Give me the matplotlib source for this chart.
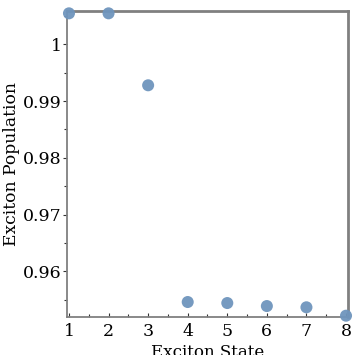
import matplotlib
matplotlib.use("Agg")
import matplotlib.pyplot as plt
from matplotlib.ticker import MultipleLocator

states = [1, 2, 3, 4, 5, 6, 7, 8]
population = [1.00546, 1.00546, 0.99278, 0.95459, 0.95441, 0.95388, 0.95366, 0.95218]
yticks = [0.96, 0.97, 0.98, 0.99, 1.0]
yticklabels = ["0.96", "0.97", "0.98", "0.99", "1"]

plt.rcParams['font.family'] = ['DejaVu Serif']

fig = plt.figure(figsize=(3.55, 3.55), dpi=100)
ax = fig.add_axes([67/355, 1 - 317/355, (348-67)/355, (317-11)/355])

ax.scatter(states, population, s=75, color='#6f95bd', alpha=0.95, edgecolors='none', zorder=3, clip_on=False)

ax.set_xlim(0.95, 8.05)
ax.set_ylim(0.95195, 1.00587)
ax.set_xticks(states)
ax.xaxis.set_minor_locator(MultipleLocator(0.5))
ax.set_yticks(yticks)
ax.set_yticklabels(yticklabels)
ax.yaxis.set_minor_locator(MultipleLocator(0.005))

for s in ax.spines.values():
    s.set_color('#808080')
    s.set_linewidth(1.3)
ax.spines['top'].set_linewidth(2)
ax.spines['right'].set_linewidth(2)

ax.tick_params(axis='both', which='major', length=3, width=0.8, color='#333333', labelsize=12.5, pad=1)
ax.tick_params(axis='both', which='minor', length=2, width=0.8, color='#333333')
ax.tick_params(axis='x', which='both', direction='in')
ax.tick_params(axis='x', which='major', pad=4)

ax.set_xlabel('Exciton State', fontsize=12, labelpad=3)
ax.set_ylabel('Exciton Population', fontsize=12.3, labelpad=2)

fig.savefig('out.png', dpi=100)
